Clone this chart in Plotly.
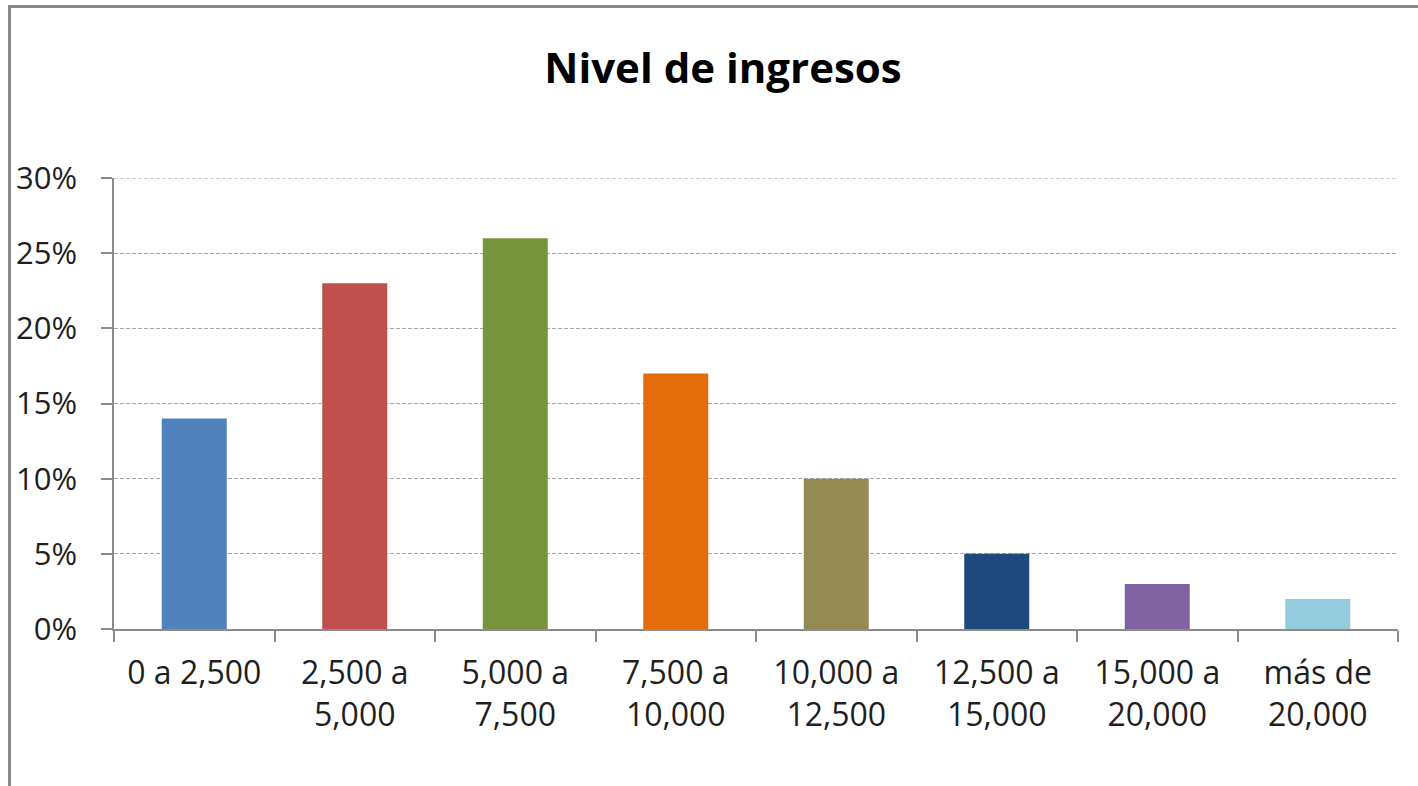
import plotly.graph_objects as go

categories = ["0 a 2,500", "2,500 a<br>5,000", "5,000 a<br>7,500", "7,500 a<br>10,000",
              "10,000 a<br>12,500", "12,500 a<br>15,000", "15,000 a<br>20,000", "más de<br>20,000"]
values = [14, 23, 26, 17, 10, 5, 3, 2]
colors = ["#4F81BD", "#C0504D", "#77933C", "#E46C0A", "#948A54", "#1F497D", "#8064A2", "#93CDDD"]
y_ticks = [0, 5, 10, 15, 20, 25, 30]
y_tick_labels = ["0%", "5%", "10%", "15%", "20%", "25%", "30%"]

FONT = "Open Sans"
TXT = "#1f1f1f"
GRID = "#A6A6A6"

fig = go.Figure(go.Bar(
    x=categories, y=values,
    marker=dict(color=colors, line=dict(width=0)),
    hoverinfo="skip",
))

W, H = 1418, 786
L, R, T, B = 114, 20, 178, 157
pw = W - L - R
ph = H - T - B

def px_x(x):
    return (x - L) / pw

def px_y(y):
    return (H - B - y) / ph

fig.update_layout(
    width=W, height=H,
    margin=dict(l=L, r=R, t=T, b=B, pad=0),
    paper_bgcolor="white", plot_bgcolor="white",
    bargap=0.595,
    showlegend=False,
    font=dict(family=FONT, color=TXT, size=32),
    title=dict(text="<b>Nivel de ingresos</b>", font=dict(family=FONT, size=42, color="#000000"),
               x=px_x(723), xref="paper", xanchor="center",
               y=1 - 68 / H, yref="container", yanchor="middle"),
    xaxis=dict(
        showline=True, linecolor="#8C8C8C", linewidth=1.5,
        ticks="outside", ticklen=11, tickcolor="#8C8C8C", tickwidth=1.5,
        tickson="boundaries", showgrid=False,
        tickfont=dict(family=FONT, size=32, color=TXT),
        ticklabelstandoff=15,
    ),
    yaxis=dict(
        range=[0, y_ticks[-1]], tickmode="array", tickvals=y_ticks, ticktext=y_tick_labels,
        showline=True, linecolor="#8C8C8C", linewidth=1.5,
        ticks="outside", ticklen=11, tickcolor="#8C8C8C", tickwidth=1.5,
        showgrid=True, gridcolor=GRID, gridwidth=1, griddash="4px,2px",
        zeroline=False,
        tickfont=dict(family=FONT, size=31, color=TXT),
        ticklabelstandoff=18,
    ),
    shapes=[
        dict(type="line", xref="paper", yref="y", x0=0, x1=1, y0=y_ticks[-1], y1=y_ticks[-1],
             line=dict(color=GRID, width=1, dash="4px,2px"), layer="below"),
        dict(type="rect", xref="paper", yref="paper",
             x0=px_x(9.5), x1=px_x(1440), y0=px_y(820), y1=px_y(6.5),
             line=dict(color="#878787", width=3), fillcolor="rgba(0,0,0,0)", layer="above"),
    ],
)

fig.write_html("out.html")
